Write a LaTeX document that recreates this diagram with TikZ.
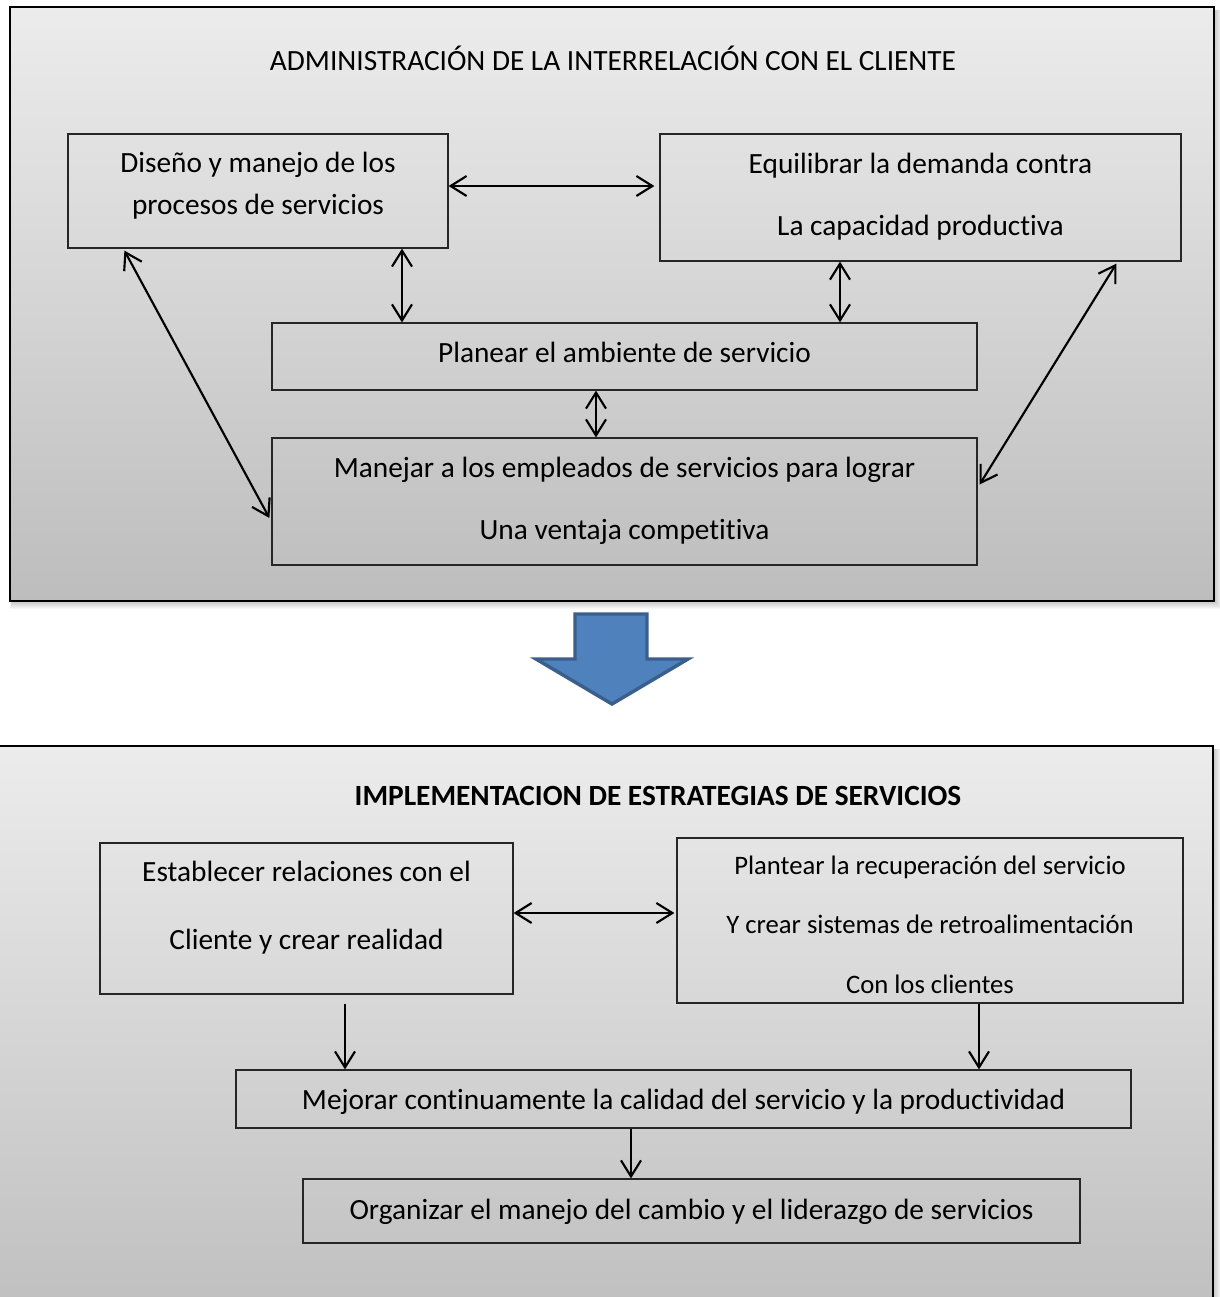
\documentclass[tikz,border=0pt]{standalone}
\usepackage{fontspec}
\setmainfont[Ligatures={NoCommon}]{Carlito}
\usetikzlibrary{arrows.meta,calc,fit}
\definecolor{panelTop}{HTML}{ECECEC}
\definecolor{panelBot}{HTML}{BDBDBD}
\definecolor{arrowFill}{HTML}{4F81BD}
\definecolor{arrowLine}{HTML}{3A5F8C}
\begin{document}
\begin{tikzpicture}[x=0.75pt,y=-0.75pt,
  panel/.style={draw=black, line width=1.8pt, top color=panelTop, bottom color=panelBot},
  box/.style={draw=black!85, line width=0.9pt, inner sep=0pt},
  txt/.style={anchor=base, inner sep=0pt, font=\fontsize{22}{26}\selectfont},
  smalltxt/.style={txt, font=\fontsize{20}{24}\selectfont},
  boldtxt/.style={txt, font=\bfseries\fontsize{22}{26}\selectfont},
  link/.style={line width=1.6pt, {Straight Barb[length=12pt,width=15pt]}-{Straight Barb[length=12pt,width=15pt]}},
  flow/.style={line width=1.6pt, -{Straight Barb[length=12pt,width=15pt]}}]

\useasboundingbox (0,0) rectangle (1220,1297);

% ---------- upper panel ----------
\foreach \k in {1,...,8}
  \fill[black,opacity=0.03] (13-0.4*\k,10) rectangle (1214+\k,601+\k);
\path[panel] (10,7) rectangle (1214,601);
\node[txt] (t1) at (613,70) {ADMINISTRACIÓN DE LA INTERRELACIÓN CON EL CLIENTE};

\node[box, fit={(68,134) (448,248)}] (a) {};
\node[txt] (a1) at (258,172) {Diseño y manejo de los};
\node[txt] (a2) at (258,214) {procesos de servicios};

\node[box, fit={(660,134) (1181,261)}] (b) {};
\node[txt] (b1) at (920.5,173) {Equilibrar la demanda contra};
\node[txt] (b2) at (920.5,235) {La capacidad productiva};

\node[box, fit={(272,323) (977,390)}] (c) {};
\node[txt] (c1) at (624.5,362) {Planear el ambiente de servicio};

\node[box, fit={(272,438) (977,565)}] (d) {};
\node[txt] (d1) at (624.5,477) {Manejar a los empleados de servicios para lograr};
\node[txt] (d2) at (624.5,539) {Una ventaja competitiva};

\coordinate (yab) at (0,186);
\coordinate (xac) at (402,0);
\coordinate (xbc) at (840,0);
\coordinate (xcd) at (596,0);
\draw[link] (a.east |- yab) -- ($(b.west |- yab)+(-5,0)$);
\draw[link] (a.south -| xac) -- (c.north -| xac);
\draw[link] (b.south -| xbc) -- (c.north -| xbc);
\draw[link] (c.south -| xcd) -- (d.north -| xcd);
\draw[link] ($(a.south west)+(57,2)$) -- ($(d.west)+(-2,16.5)$);
\draw[link] ($(b.south west)+(457,2)$) -- ($(d.east)+(2,-17)$);

% ---------- block arrow between panels ----------
\draw[draw=arrowLine, fill=arrowFill, line width=2.6pt, line join=miter]
  (575,614) -- (647,614) -- (647,659) -- (688,659) -- (612,704)
  -- (536,659) -- (575,659) -- cycle;

% ---------- lower panel ----------
\foreach \k in {1,...,8}
  \fill[black,opacity=0.03] (0,749) rectangle (1213+\k,1340);
\path[panel] (-2,746) rectangle (1213,1340);
\node[boldtxt] (t2) at (658,805) {IMPLEMENTACION DE ESTRATEGIAS DE SERVICIOS};

\node[box, fit={(100,843) (513,994)}] (e) {};
\node[txt] (e1) at (306.5,881) {Establecer relaciones con el};
\node[txt] (e2) at (306.5,949) {Cliente y crear realidad};

\node[box, fit={(677,838) (1183,1003)}] (f) {};
\node[smalltxt] (f1) at (930,874) {Plantear la recuperación del servicio};
\node[smalltxt] (f2) at (930,933) {Y crear sistemas de retroalimentación};
\node[smalltxt] (f3) at (930,993) {Con los clientes};

\node[box, fit={(236,1070) (1131,1128)}] (g) {};
\node[txt] (g1) at (683.5,1109) {Mejorar continuamente la calidad del servicio y la productividad};

\node[box, fit={(303,1179) (1080,1243)}] (h) {};
\node[txt] (h1) at (691.5,1219) {Organizar el manejo del cambio y el liderazgo de servicios};

\coordinate (yef) at (0,913);
\coordinate (xeg) at (345,0);
\coordinate (xfg) at (979,0);
\coordinate (xgh) at (631,0);
\draw[link] (e.east |- yef) -- ($(f.west |- yef)+(-2,0)$);
\draw[flow] ($(e.south -| xeg)+(0,9)$) -- (g.north -| xeg);
\draw[flow] (f.south -| xfg) -- (g.north -| xfg);
\draw[flow] (g.south -| xgh) -- (h.north -| xgh);
\end{tikzpicture}
\end{document}
